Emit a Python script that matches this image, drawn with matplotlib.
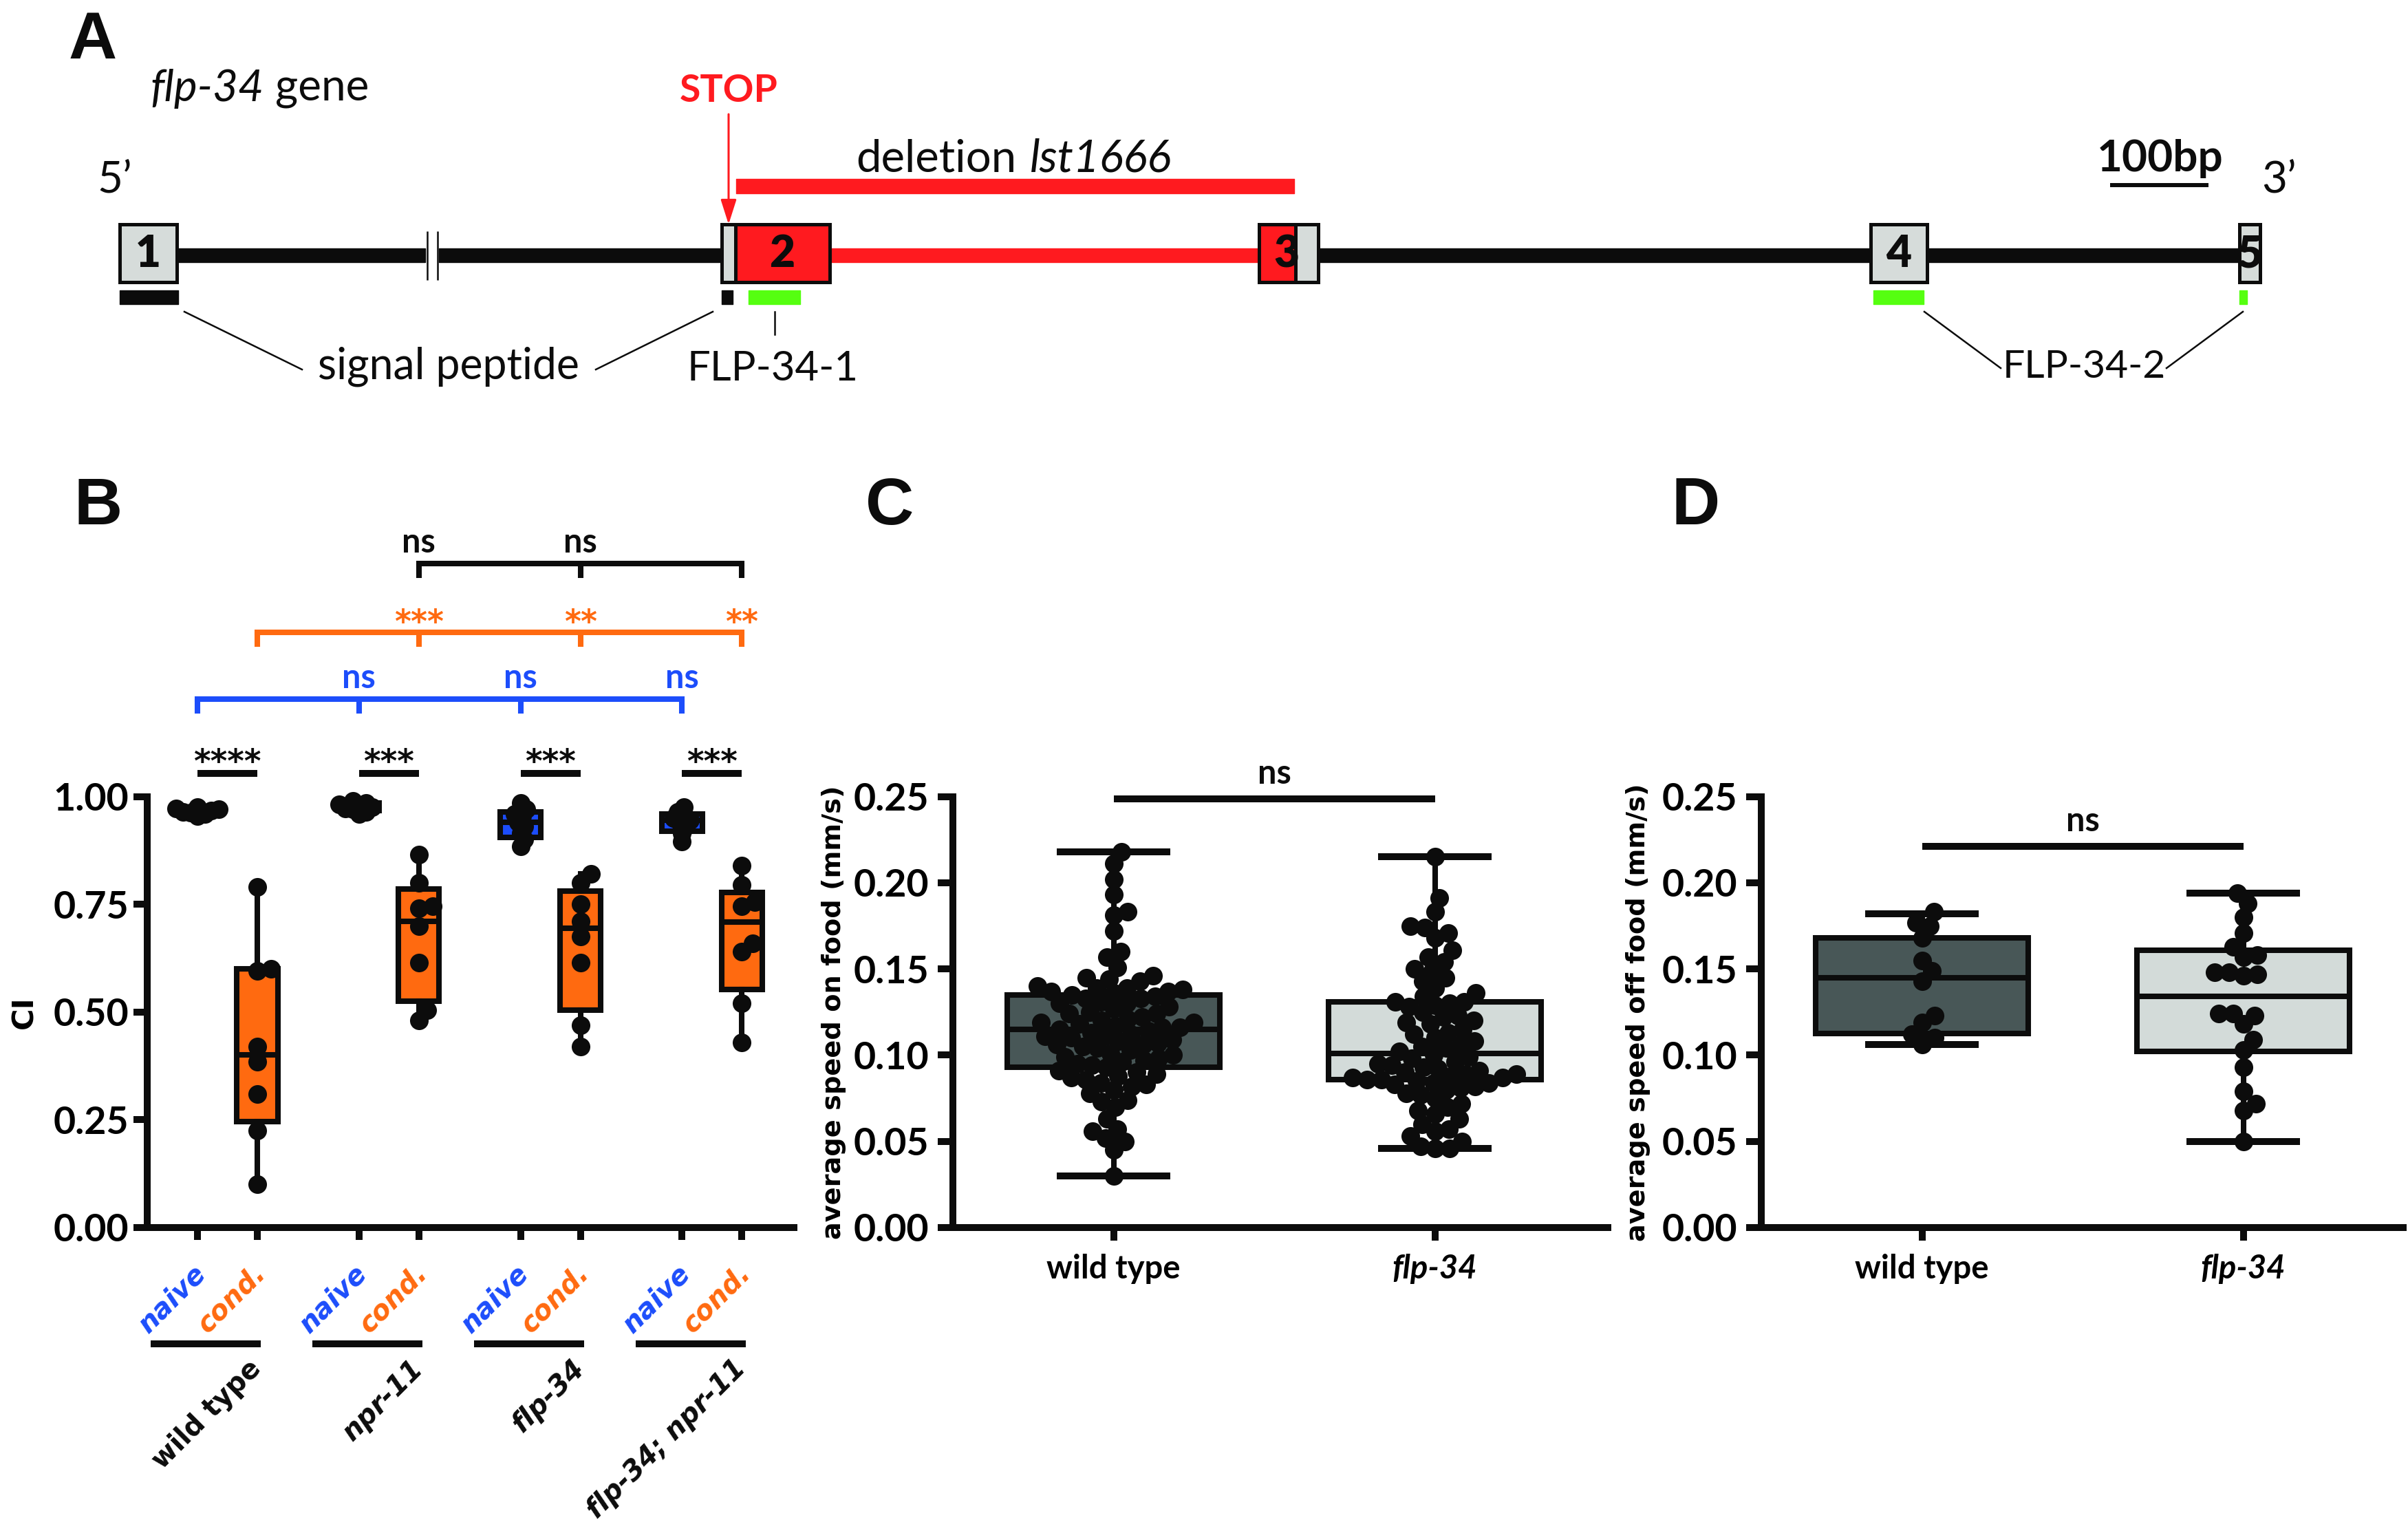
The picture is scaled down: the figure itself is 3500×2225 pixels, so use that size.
import numpy as np
import matplotlib
matplotlib.use('Agg')
import matplotlib.pyplot as plt
from matplotlib.patches import Rectangle

W, H = 3500, 2225

# ---------------- panel A : flp-34 gene model (positions in diagram units) ----------------
exon_start = [174, 1049, 1830, 2719, 3255]
exon_end = [257, 1206, 1916, 2801, 3285]
exon_names = ['1', '2', '3', '4', '5']
exon_label_x = [215, 1137, 1870, 2760, 3270]
coding_red = [(1069, 1206), (1830, 1883)]
intron_black = [(257, 618), (638, 1049), (1916, 2719), (2801, 3255)]
intron_red = [(1206, 1830)]
deletion_span = (1070, 1881)
signal_bars = [(174, 259), (1049, 1065)]
peptide_bars = [(1088, 1163), (2723, 2796), (3255, 3266)]
stop_pos = 1059

# ---------------- panel B : CI ----------------
genotypes_b = ['wild type', 'npr-11', 'flp-34', 'flp-34; npr-11']
genotype_italic = [False, True, True, True]
naive_pts = [
    [0.970, 0.965, 0.972, 0.960, 0.975, 0.955, 0.968, 0.962],
    [0.990, 0.985, 0.980, 0.975, 0.970, 0.965, 0.960, 0.972, 0.982],
    [0.985, 0.970, 0.960, 0.955, 0.940, 0.930, 0.915, 0.900, 0.885],
    [0.975, 0.965, 0.955, 0.950, 0.945, 0.940, 0.930, 0.915, 0.895],
]
cond_pts = [
    [0.790, 0.600, 0.595, 0.420, 0.385, 0.310, 0.225, 0.100],
    [0.865, 0.800, 0.745, 0.740, 0.700, 0.615, 0.505, 0.480],
    [0.820, 0.800, 0.750, 0.710, 0.675, 0.615, 0.470, 0.420],
    [0.840, 0.795, 0.755, 0.745, 0.660, 0.640, 0.520, 0.430],
]
naive_lo = [0.955, 0.960, 0.885, 0.895]
naive_q1 = [0.959, 0.967, 0.905, 0.920]
naive_med = [0.965, 0.975, 0.940, 0.945]
naive_q3 = [0.971, 0.985, 0.965, 0.960]
naive_hi = [0.975, 0.990, 0.985, 0.975]
cond_lo = [0.100, 0.480, 0.420, 0.430]
cond_q1 = [0.246, 0.525, 0.505, 0.553]
cond_med = [0.400, 0.710, 0.695, 0.709]
cond_q3 = [0.600, 0.785, 0.780, 0.778]
cond_hi = [0.790, 0.865, 0.820, 0.840]
pair_sig = ['****', '***', '***', '***']
naive_vs_wt = ['ns', 'ns', 'ns']
cond_vs_wt = ['***', '**', '**']
cond_vs_npr = ['ns', 'ns']

# ---------------- panel C : speed on food ----------------
strains_cd = ['wild type', 'flp-34']
wt_on = [0.218, 0.211, 0.202, 0.193, 0.183, 0.181, 0.172, 0.160, 0.157, 0.151,
         0.146, 0.145, 0.144, 0.143, 0.140, 0.139, 0.139, 0.138, 0.137, 0.137,
         0.136, 0.135, 0.134, 0.133, 0.133, 0.131, 0.130, 0.130, 0.128, 0.127,
         0.125, 0.124, 0.124, 0.122, 0.121, 0.120, 0.119, 0.119, 0.118, 0.117,
         0.116, 0.116, 0.115, 0.114, 0.113, 0.112, 0.111, 0.111, 0.110, 0.109,
         0.108, 0.107, 0.106, 0.106, 0.105, 0.104, 0.103, 0.101, 0.100, 0.099,
         0.098, 0.097, 0.096, 0.095, 0.094, 0.093, 0.091, 0.090, 0.089, 0.088,
         0.087, 0.086, 0.084, 0.083, 0.082, 0.080, 0.078, 0.074, 0.073, 0.070,
         0.063, 0.057, 0.056, 0.052, 0.050, 0.045, 0.030]
flp_on = [0.215, 0.191, 0.183, 0.175, 0.174, 0.171, 0.168, 0.161, 0.157, 0.154,
          0.150, 0.149, 0.145, 0.143, 0.139, 0.136, 0.134, 0.131, 0.131, 0.130,
          0.129, 0.128, 0.125, 0.123, 0.122, 0.120, 0.119, 0.118, 0.115, 0.113,
          0.112, 0.110, 0.108, 0.106, 0.105, 0.104, 0.102, 0.100, 0.099, 0.098,
          0.096, 0.095, 0.094, 0.093, 0.092, 0.091, 0.090, 0.089, 0.089,
          0.088, 0.087, 0.087, 0.086, 0.086, 0.085, 0.084, 0.084,
          0.083, 0.082, 0.081, 0.080, 0.078, 0.077, 0.075, 0.072, 0.070, 0.068,
          0.066, 0.063, 0.060, 0.057, 0.056, 0.053, 0.050, 0.047, 0.046, 0.046]
on_lo = [0.030, 0.046]
on_q1 = [0.093, 0.086]
on_med = [0.115, 0.101]
on_q3 = [0.135, 0.131]
on_hi = [0.218, 0.215]

# ---------------- panel D : speed off food ----------------
wt_off = [0.183, 0.177, 0.175, 0.168, 0.155, 0.149, 0.143, 0.123, 0.119, 0.112, 0.110, 0.106]
flp_off = [0.194, 0.188, 0.180, 0.171, 0.163, 0.158, 0.157, 0.148, 0.146, 0.148, 0.147,
           0.124, 0.123, 0.124, 0.118, 0.109, 0.103, 0.093, 0.079, 0.072, 0.068, 0.050]
off_lo = [0.106, 0.050]
off_q1 = [0.1125, 0.102]
off_med = [0.145, 0.134]
off_q3 = [0.168, 0.161]
off_hi = [0.182, 0.194]

ORANGE = '#ff6a10'
BLUE = '#1c4dfb'
DARK = '#485757'
LIGHT = '#d3dbd9'
GENE_GRAY = '#d6dcda'
RED = '#ff1a1f'
GREEN = '#55ff10'
BLACK = '#0c0c0c'
VERD = ['DejaVu Sans']

plt.rcParams['font.family'] = ['Lato', 'DejaVu Sans']

fig = plt.figure(figsize=(W / 100, H / 100), dpi=100)


def axes_px(l, t, r, b):
    return fig.add_axes([l / W, 1 - b / H, (r - l) / W, (b - t) / H])


def swarm(vals, d, ypx, xpx):
    # simple beeswarm: place points (sorted by value) at smallest offset without overlap
    vals = np.asarray(vals, float)
    offs = np.zeros(len(vals))
    px, py = [], []
    for i in np.argsort(vals):
        y = vals[i] * ypx
        cands = [0.0]
        for a, b in zip(px, py):
            dy = y - b
            if abs(dy) < d:
                dx = np.sqrt(d * d - dy * dy)
                cands += [a + dx, a - dx]
        cands.sort(key=abs)
        for c in cands:
            if all((c - a) ** 2 + (y - b) ** 2 >= d * d - 1e-6 for a, b in zip(px, py)):
                break
        px.append(c)
        py.append(y)
        offs[i] = c
    return offs / xpx


def stats(lo, q1, med, q3, hi):
    return [dict(whislo=a, q1=b, med=c, q3=d, whishi=e) for a, b, c, d, e in zip(lo, q1, med, q3, hi)]


# ================= A =================
ax_a = axes_px(0, 0, W, 600)
ax_a.set_xlim(0, W)
ax_a.set_ylim(600, 0)
ax_a.axis('off')

ax_a.broken_barh([(s, e - s) for s, e in intron_black], (361, 20), color=BLACK, zorder=2)
ax_a.broken_barh([(s, e - s) for s, e in intron_red], (361, 20), color=RED, zorder=2)
ax_a.vlines([621, 636], 336, 407, color=BLACK, lw=1.8)
for s, e in zip(exon_start, exon_end):
    ax_a.add_patch(Rectangle((s, 326), e - s, 84, fc=GENE_GRAY, ec=BLACK, lw=3.6, zorder=3))
for s, e in coding_red:
    ax_a.add_patch(Rectangle((s, 326), e - s, 84, fc=RED, ec=BLACK, lw=3.6, zorder=4))
for name, x in zip(exon_names, exon_label_x):
    ax_a.text(x, 370, name, ha='center', va='center', fontsize=46, fontweight='heavy', color=BLACK, zorder=5)
ax_a.broken_barh([(s, e - s) for s, e in signal_bars], (422, 20), color=BLACK)
ax_a.broken_barh([(s, e - s) for s, e in peptide_bars], (422, 20), color=GREEN)
ax_a.broken_barh([(deletion_span[0], deletion_span[1] - deletion_span[0])], (260, 21), color=RED)
ax_a.annotate('', xy=(stop_pos, 326), xytext=(stop_pos, 166),
              arrowprops=dict(arrowstyle='-|>,head_length=2.2,head_width=0.7', color=RED, lw=2.2,
                              shrinkA=0, shrinkB=0))
ax_a.text(stop_pos, 148, 'STOP', ha='center', va='baseline', fontsize=40, fontweight='bold', color=RED)
ax_a.text(1244, 249, 'deletion', ha='left', va='baseline', fontsize=47, color=BLACK)
ax_a.text(1497, 249, 'lst1666', ha='left', va='baseline', fontsize=47, style='italic', color=BLACK)
ax_a.text(383, 147, 'flp-34', ha='right', va='baseline', fontsize=46, style='italic', color=BLACK)
ax_a.text(400, 147, 'gene', ha='left', va='baseline', fontsize=46, color=BLACK)
ax_a.text(141, 280, '5\u2019', ha='left', va='baseline', fontsize=46, color=BLACK)
ax_a.text(3287, 280, '3\u2019', ha='left', va='baseline', fontsize=46, color=BLACK)
ax_a.text(3140, 249, '100bp', ha='center', va='baseline', fontsize=46, fontweight='bold', color=BLACK)
ax_a.plot([3067, 3210], [269, 269], color=BLACK, lw=4.3, solid_capstyle='butt')
# leader lines
ax_a.plot([268, 439], [453, 537], color=BLACK, lw=1.8)
ax_a.plot([1036, 866], [453, 537], color=BLACK, lw=1.8)
ax_a.plot([1126, 1126], [453, 486], color=BLACK, lw=1.8)
ax_a.plot([2797, 2908], [453, 535], color=BLACK, lw=1.8)
ax_a.plot([3260, 3149], [453, 535], color=BLACK, lw=1.8)
ax_a.text(652, 551, 'signal peptide', ha='center', va='baseline', fontsize=45, color=BLACK)
ax_a.text(1123, 553, 'FLP-34-1', ha='center', va='baseline', fontsize=43, color=BLACK)
ax_a.text(3029, 549, 'FLP-34-2', ha='center', va='baseline', fontsize=41, color=BLACK)


def style_axes(ax):
    for sp in ['top', 'right']:
        ax.spines[sp].set_visible(False)
    for sp in ['left', 'bottom']:
        ax.spines[sp].set_linewidth(7.2)
        ax.spines[sp].set_color(BLACK)
        ax.spines[sp].set_capstyle('projecting')


# ================= B =================
ax_b = axes_px(214, 1157.6, 1154, 1784)
style_axes(ax_b)
gx = np.arange(4) * 2.7
naive_x = gx
cond_x = gx + 1
ax_b.set_xlim(-0.84, 9.97)
ax_b.set_ylim(0, 1)
bp_kw = dict(widths=0.68, patch_artist=True, showfliers=False, showcaps=False, manage_ticks=False,
             medianprops=dict(color=BLACK, linewidth=5.8),
             whiskerprops=dict(color=BLACK, linewidth=5.8))
ax_b.bxp(stats(naive_lo, naive_q1, naive_med, naive_q3, naive_hi), positions=naive_x,
         boxprops=dict(facecolor=BLUE, edgecolor=BLACK, linewidth=5.8), **bp_kw)
ax_b.bxp(stats(cond_lo, cond_q1, cond_med, cond_q3, cond_hi), positions=cond_x,
         boxprops=dict(facecolor=ORANGE, edgecolor=BLACK, linewidth=5.8), **bp_kw)
for x, vals in zip(naive_x, naive_pts):
    ax_b.scatter(x + swarm(vals, 11, 626.4, 87), vals, s=380, c=BLACK, lw=0, zorder=4, clip_on=False)
for x, vals in zip(cond_x, cond_pts):
    ax_b.scatter(x + swarm(vals, 20, 626.4, 87), vals, s=380, c=BLACK, lw=0, zorder=4, clip_on=False)

ax_b.set_yticks([0, 0.25, 0.5, 0.75, 1.0])
ax_b.set_yticklabels(['%.2f' % v for v in [0, 0.25, 0.5, 0.75, 1.0]], fontweight='bold')
ax_b.set_xticks(np.sort(np.concatenate([naive_x, cond_x])))
ax_b.set_xticklabels([])
ax_b.tick_params(axis='y', length=14.4, width=7.2, pad=5, labelsize=40, color=BLACK)
ax_b.tick_params(axis='x', length=13, width=7.2, color=BLACK)
ax_b.set_ylabel('CI', fontfamily=VERD, fontweight='bold', fontsize=31, va='center')
ax_b.yaxis.set_label_coords(-0.19, 0.5)

# x labels: rotated condition names, underlines, genotypes
for i in range(4):
    ax_b.text(naive_x[i] + 0.07, -0.097, 'naive', rotation=45, rotation_mode='anchor', ha='right', va='center',
              fontfamily=VERD, fontweight='bold', style='italic', fontsize=28.5, color=BLUE, clip_on=False)
    ax_b.text(cond_x[i] + 0.07, -0.097, 'cond.', rotation=45, rotation_mode='anchor', ha='right', va='center',
              fontfamily=VERD, fontweight='bold', style='italic', fontsize=28.5, color=ORANGE, clip_on=False)
    ax_b.plot([naive_x[i] - 0.78, cond_x[i] + 0.06], [-0.270, -0.270], color=BLACK, lw=7.2,
              solid_capstyle='butt', clip_on=False)
    ax_b.text(cond_x[i] + 0.0, -0.318, genotypes_b[i], rotation=45, rotation_mode='anchor', ha='right',
              va='center', fontfamily=VERD, fontweight='bold', style='italic' if genotype_italic[i] else 'normal',
              fontsize=28.5, color=BLACK, clip_on=False)

# significance: naive vs cond per genotype
for i in range(4):
    ax_b.plot([naive_x[i], cond_x[i]], [1.0536, 1.0536], color=BLACK, lw=7.2, solid_capstyle='butt', clip_on=False)
    ax_b.text((naive_x[i] + cond_x[i]) / 2, 1.057, pair_sig[i], ha='center', va='baseline', fontfamily=VERD,
              fontweight='bold', fontsize=34, color=BLACK, clip_on=False)


def bracket(ax, xs, y_top, y_leg, color, lw):
    ax.plot([xs[0], xs[-1]], [y_top, y_top], color=color, lw=lw, solid_capstyle='projecting', clip_on=False)
    for x in xs:
        ax.plot([x, x], [y_top, y_leg], color=color, lw=lw, solid_capstyle='butt', clip_on=False)


bracket(ax_b, naive_x, 1.226, 1.1926, BLUE, 5.8)
for x, t in zip(naive_x[1:], naive_vs_wt):
    ax_b.text(x, 1.2516, t, ha='center', va='baseline', fontsize=35, fontweight='bold', color=BLUE, clip_on=False)
bracket(ax_b, cond_x, 1.381, 1.347, ORANGE, 5.8)
for x, t in zip(cond_x[1:], cond_vs_wt):
    ax_b.text(x, 1.381, t, ha='center', va='baseline', fontfamily=VERD, fontweight='bold', fontsize=33,
              color=ORANGE, clip_on=False)
bracket(ax_b, cond_x[1:], 1.5405, 1.507, BLACK, 5.8)
for x, t in zip(cond_x[1:3], cond_vs_npr):
    ax_b.text(x, 1.566, t, ha='center', va='baseline', fontsize=35, fontweight='bold', color=BLACK, clip_on=False)


# ================= C & D =================
def speed_panel(l, r, pts, lo, q1, med, q3, hi, ylabel, ns_y, label_x):
    ax = axes_px(l, 1157.6, r, 1784)
    style_axes(ax)
    ax.set_xlim(-0.5, (r - l) / 467 - 0.5)
    ax.set_ylim(0, 0.25)
    bp = ax.bxp(stats(lo, q1, med, q3, hi), positions=[0, 1], widths=0.66, capwidths=0.33, patch_artist=True,
                showfliers=False, manage_ticks=False,
                boxprops=dict(edgecolor=BLACK, linewidth=5.8),
                medianprops=dict(color=BLACK, linewidth=5.8),
                whiskerprops=dict(color=BLACK, linewidth=5.8),
                capprops=dict(color=BLACK, linewidth=7.2))
    for patch, fc in zip(bp['boxes'], [DARK, LIGHT]):
        patch.set_facecolor(fc)
    for x, vals in zip([0, 1], pts):
        ax.scatter(x + swarm(vals, 21, 2504, 467), vals, s=380, c=BLACK, lw=0, zorder=4, clip_on=False)
    ax.set_yticks(np.arange(0, 0.26, 0.05))
    ax.set_yticklabels(['%.2f' % v for v in np.arange(0, 0.26, 0.05)], fontweight='bold')
    ax.set_xticks([0, 1])
    ax.set_xticklabels(strains_cd, fontweight='bold')
    ax.get_xticklabels()[1].set_style('italic')
    ax.tick_params(axis='y', length=15.8, width=7.2, pad=9, labelsize=40, color=BLACK)
    ax.tick_params(axis='x', length=13.7, width=7.2, pad=14, labelsize=34, color=BLACK)
    ax.set_ylabel(ylabel, fontfamily=VERD, fontweight='bold', fontsize=27.5, va='center')
    ax.yaxis.set_label_coords(label_x, 0.5)
    ax.plot([0, 1], [ns_y, ns_y], color=BLACK, lw=7.2, solid_capstyle='butt', clip_on=False)
    ax.text(0.5, ns_y + 0.0088, 'ns', ha='center', va='baseline', fontsize=35, fontweight='bold', color=BLACK,
            clip_on=False)
    return ax


ax_c = speed_panel(1385, 2337, [wt_on, flp_on], on_lo, on_q1, on_med, on_q3, on_hi,
                   'average speed on food (mm/s)', 0.2486, -0.182)
ax_d = speed_panel(2560, 3493, [wt_off, flp_off], off_lo, off_q1, off_med, off_q3, off_hi,
                   'average speed off food (mm/s)', 0.2212, -0.192)

# panel letters
for letter, x, y in [('A', 100, 85), ('B', 107, 762), ('C', 1258, 762), ('D', 2430, 762)]:
    fig.text(x / W, 1 - y / H, letter, ha='left', va='baseline', fontsize=70, fontweight='bold',
             fontfamily=['Liberation Sans', 'DejaVu Sans'], color=BLACK)

fig.savefig('out.png', dpi=100)
